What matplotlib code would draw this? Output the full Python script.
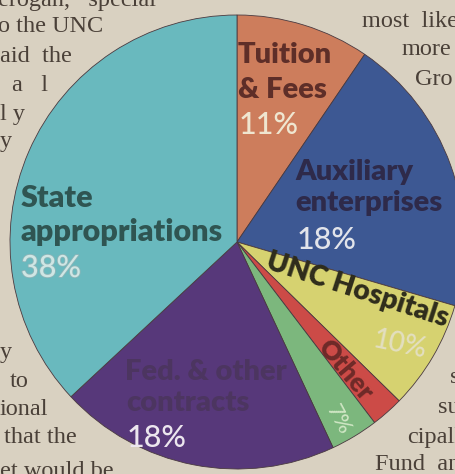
import matplotlib
matplotlib.use("Agg")
import matplotlib.pyplot as plt
import matplotlib.patheffects as pe

# ---- data (clockwise from 12 o'clock) ----
categories = ["Tuition & Fees", "Auxiliary enterprises", "UNC Hospitals", "Other",
              "Misc.", "Fed. & other contracts", "State appropriations"]
shares = [9.5, 20.0, 7.8, 2.3, 3.4, 20.0, 36.9]          # slice sizes as drawn
pct_labels = ["11%", "18%", "10%", "", "7%", "18%", "38%"]
colors = ["#cd7d5c", "#3d5893", "#d6d270", "#cc4b47", "#7cb77d", "#57387a", "#69b9be"]

W, H = 456, 474
PAPER = "#d9d1c1"
fig = plt.figure(figsize=(W / 100, H / 100), dpi=100, facecolor=PAPER)
ax = fig.add_axes([0, 0, 1, 1])
ax.set_xlim(0, W)
ax.set_ylim(0, H)

def Y(y):
    return H - y

# newspaper body text around the graphic
news = [
    ("erogan,   special", -2, 6), ("o the UNC", -2, 32), ("aid  the", 0, 62),
    ("a   l", 12, 91), ("l y", 0, 120), ("y", 0, 147), ("y", 0, 358),
    ("to", 10, 387), ("ional", 0, 415), ("that the", 4, 443), ("et would be", 0, 477),
    ("most  like", 362, 27), ("more", 402, 55), ("Gro", 415, 85),
    ("s", 450, 383), ("su", 438, 413), ("cipall", 407, 443), ("Fund  an", 375, 470),
]
for txt, x, y in news:
    ax.text(x, Y(y), txt, family="Liberation Serif", fontsize=17.5, color="#4a4038",
            ha="left", va="baseline", zorder=0)

wedges, _ = ax.pie(shares, colors=colors, startangle=90, counterclock=False,
                   center=(237, Y(242)), radius=227, frame=True,
                   wedgeprops=dict(edgecolor="#4a3a40", linewidth=0.6, zorder=2))
ax.set_xlim(0, W)
ax.set_ylim(0, H)
ax.set_aspect("equal")
ax.axis("off")

FONT = ["Lato", "DejaVu Sans"]
def lab(x, y, s, color, size=21, rot=0, ha="left", va="center", weight="heavy",
        outline=None):
    t = ax.text(x, Y(y), s, family=FONT, fontweight=weight, fontsize=size, color=color,
                ha=ha, va=va, rotation=rot, rotation_mode="anchor", zorder=5)
    if outline:
        t.set_path_effects([pe.withStroke(linewidth=1.2, foreground=outline)])
    return t

PCT = dict(size=22, weight="medium")
# Tuition
lab(238, 55, "Tuition", "#5e2e28")
lab(238, 90, "& Fees", "#5e2e28")
lab(239, 125, pct_labels[0], "#efe6d0", **PCT)
# Auxiliary
lab(295, 172, "Auxiliary", "#2e2a4a")
lab(295, 203, "enterprises", "#2e2a4a")
lab(297, 240, pct_labels[1], "#e2e4ea", **PCT)
# State
lab(21, 198, "State", "#2f5552", size=22)
lab(21, 232, "appropriations", "#2f5552", size=22)
lab(21, 268, pct_labels[6], "#cfe6e4", outline="#8fb5b8", **PCT)
# Hospitals
lab(357, 290, "UNC Hospitals", "#2e2c1c", size=20.5, rot=-18, ha="center")
lab(400, 345, pct_labels[2], "#e3dfc0", size=20, weight="medium", rot=-12, ha="center")
# Other
lab(345, 370, "Other", "#6e2a28", size=19, rot=-50, ha="center")
lab(338, 420, pct_labels[4], "#cfe6c4", size=16, weight="medium", rot=-62, ha="center")
# Federal
lab(125, 372, "Fed. & other", "#4c3560")
lab(126, 403, "contracts", "#4c3560")
lab(127, 438, pct_labels[5], "#ece6ee", **PCT)

fig.savefig("out.png", dpi=100, facecolor=PAPER)
